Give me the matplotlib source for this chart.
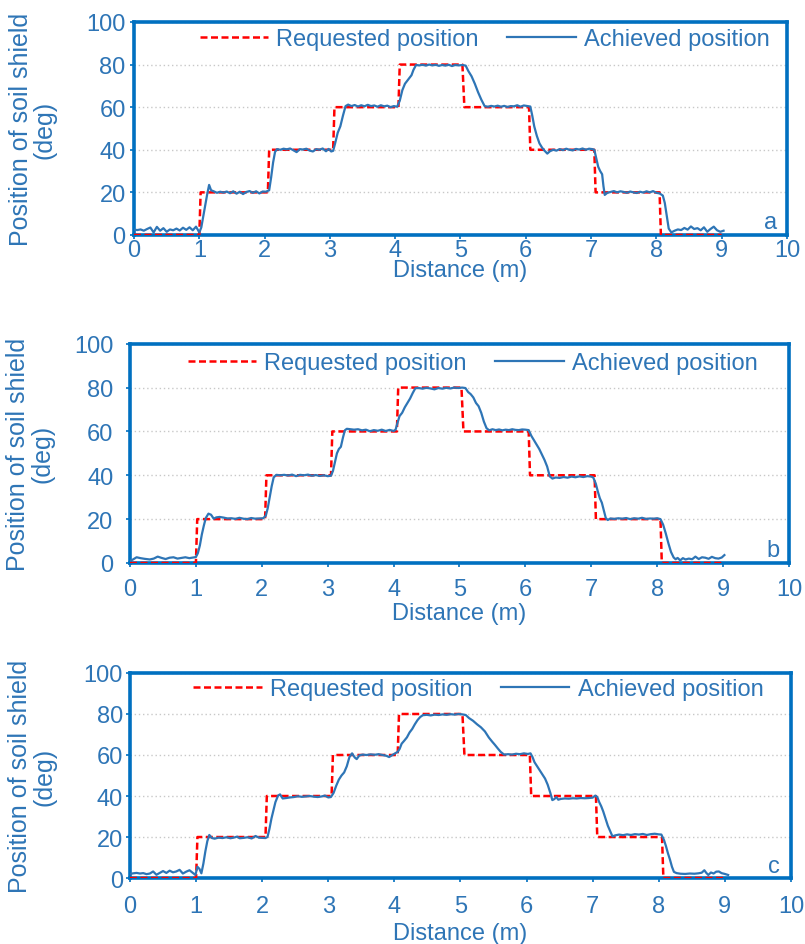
import matplotlib
matplotlib.use('Agg')
import matplotlib.pyplot as plt

plt.rcParams['font.family'] = ['Liberation Sans', 'DejaVu Sans']

# requested set-point (same staircase for every run)
req_x = [0, 1.00, 1.02, 2.05, 2.07, 3.05, 3.07, 4.05, 4.07, 5.03, 5.06,
         6.05, 6.07, 7.05, 7.07, 8.05, 8.07, 9.0]
req_y = [0, 0, 20, 20, 40, 40, 60, 60, 80, 80, 60, 60, 40, 40, 20, 20, 0, 0]

# run a
a_x = [0.00, 0.05, 0.10, 0.15, 0.20, 0.25, 0.30, 0.35, 0.40, 0.45, 0.50, 0.55, 0.60, 0.65, 0.70,
       0.75, 0.80, 0.85, 0.90, 0.95, 1.00, 1.03, 1.08, 1.12, 1.15, 1.18, 1.22, 1.27, 1.32, 1.37,
       1.42, 1.47, 1.52, 1.57, 1.62, 1.67, 1.72, 1.77, 1.82, 1.87, 1.92, 1.97, 2.02, 2.07, 2.10,
       2.13, 2.16, 2.19, 2.24, 2.29, 2.34, 2.39, 2.44, 2.49, 2.54, 2.59, 2.64, 2.69, 2.74, 2.79,
       2.84, 2.89, 2.94, 2.98, 3.02, 3.05, 3.08, 3.12, 3.16, 3.20, 3.24, 3.28, 3.33, 3.38, 3.43,
       3.48, 3.53, 3.58, 3.63, 3.68, 3.73, 3.78, 3.83, 3.88, 3.93, 3.98, 4.03, 4.07, 4.11, 4.15,
       4.20, 4.25, 4.28, 4.32, 4.37, 4.42, 4.47, 4.52, 4.57, 4.62, 4.67, 4.72, 4.77, 4.82, 4.87,
       4.92, 4.97, 5.03, 5.08, 5.12, 5.17, 5.22, 5.27, 5.32, 5.37, 5.42, 5.47, 5.52, 5.57, 5.62,
       5.67, 5.72, 5.77, 5.82, 5.87, 5.92, 5.97, 6.03, 6.07, 6.10, 6.13, 6.17, 6.21, 6.25, 6.29,
       6.33, 6.37, 6.42, 6.47, 6.52, 6.57, 6.62, 6.67, 6.72, 6.77, 6.82, 6.87, 6.92, 6.97, 7.02,
       7.05, 7.08, 7.11, 7.14, 7.17, 7.19, 7.21, 7.25, 7.30, 7.35, 7.40, 7.45, 7.50, 7.55, 7.60,
       7.65, 7.70, 7.75, 7.80, 7.85, 7.90, 7.95, 8.00, 8.05, 8.10, 8.13, 8.16, 8.19, 8.23, 8.28,
       8.33, 8.38, 8.43, 8.48, 8.53, 8.58, 8.63, 8.68, 8.73, 8.78, 8.83, 8.88, 8.93, 8.98, 9.03]
a_y = [2.5, 2.3, 2.6, 2.0, 2.8, 3.5, 1.2, 3.8, 2.0, 3.2, 1.5, 2.6, 2.2, 3.0, 2.1,
       3.4, 2.4, 3.6, 2.2, 3.9, 1.2, 3.5, 12, 19, 23.5, 21, 20.5, 19.8, 20.3, 19.9,
       20.4, 19.6, 20.5, 19.4, 20.3, 19.2, 20.2, 20.6, 19.8, 20.5, 19.5, 20.4, 20.3, 21, 27,
       34, 39, 40.3, 40.0, 40.5, 40.2, 40.6, 39.8, 38.9, 40.3, 40.1, 40.5, 39.6, 39.2, 40.3,
       40.0, 40.6, 39.3, 40.4, 39.2, 39.5, 43, 48, 51, 56, 60.5, 61.2, 60.5, 61.0, 60.3,
       60.9, 60.4, 61.1, 60.5, 60.8, 60.2, 60.9, 60.4, 60.7, 60.0, 60.5, 60.2, 63, 68, 71,
       73, 75, 77.5, 79.8, 79.6, 79.9, 79.5, 80.0, 79.6, 79.9, 79.4, 79.8, 79.5, 79.9, 79.3,
       79.8, 79.6, 79.8, 79.5, 77, 74.5, 71, 67, 63.5, 60.5, 60.2, 60.6, 60.3, 60.7, 60.2,
       60.6, 60.1, 60.5, 60.4, 60.9, 60.2, 60.8, 60.5, 60.3, 56, 51, 46.5, 43, 41, 39.5,
       38.2, 39.3, 40.0, 39.6, 40.3, 39.8, 40.5, 40.0, 39.7, 40.4, 40.1, 40.6, 40.0, 40.5, 40.3,
       40.0, 36, 32, 30, 28.5, 23, 18.8, 19.8, 20.2, 20.6, 20.0, 20.5, 20.2, 19.8, 20.4,
       20.0, 19.7, 20.3, 19.9, 20.5, 20.0, 20.6, 19.8, 19.5, 18.5, 15, 9, 3, 1.2, 2.0,
       2.6, 2.3, 3.3, 2.5, 4.0, 2.8, 3.2, 2.2, 3.6, 1.5, 2.8, 3.9, 2.2, 1.5, 2.0]

# run b
b_x = [0.00, 0.04, 0.10, 0.16, 0.22, 0.30, 0.36, 0.42, 0.48, 0.54, 0.60, 0.66, 0.72, 0.78, 0.84,
       0.90, 0.96, 1.00, 1.03, 1.06, 1.09, 1.12, 1.15, 1.19, 1.23, 1.27, 1.31, 1.36, 1.42, 1.48,
       1.54, 1.60, 1.66, 1.72, 1.78, 1.84, 1.90, 1.96, 2.02, 2.06, 2.09, 2.12, 2.15, 2.18, 2.22,
       2.28, 2.34, 2.40, 2.46, 2.52, 2.58, 2.64, 2.70, 2.76, 2.82, 2.88, 2.94, 3.00, 3.05, 3.08,
       3.11, 3.14, 3.17, 3.20, 3.23, 3.26, 3.29, 3.34, 3.40, 3.46, 3.52, 3.58, 3.64, 3.70, 3.76,
       3.82, 3.88, 3.94, 4.00, 4.03, 4.06, 4.09, 4.13, 4.17, 4.21, 4.25, 4.29, 4.33, 4.38, 4.44,
       4.50, 4.56, 4.62, 4.68, 4.74, 4.80, 4.86, 4.92, 4.98, 5.04, 5.09, 5.13, 5.17, 5.21, 5.25,
       5.29, 5.33, 5.37, 5.41, 5.45, 5.50, 5.55, 5.60, 5.65, 5.70, 5.75, 5.80, 5.85, 5.90, 5.95,
       6.00, 6.05, 6.09, 6.13, 6.17, 6.21, 6.25, 6.29, 6.33, 6.37, 6.41, 6.46, 6.52, 6.58, 6.64,
       6.70, 6.76, 6.82, 6.88, 6.94, 7.00, 7.03, 7.07, 7.10, 7.13, 7.16, 7.19, 7.22, 7.25, 7.29,
       7.35, 7.41, 7.47, 7.53, 7.59, 7.65, 7.71, 7.77, 7.83, 7.89, 7.95, 8.00, 8.05, 8.09, 8.13,
       8.17, 8.21, 8.25, 8.28, 8.31, 8.35, 8.39, 8.43, 8.48, 8.53, 8.58, 8.63, 8.68, 8.73, 8.78,
       8.83, 8.88, 8.93, 8.98, 9.02]
b_y = [1.0, 1.5, 2.6, 2.2, 1.9, 1.6, 2.0, 2.9, 2.3, 1.8, 2.4, 2.6, 2.0, 2.3, 2.6,
       2.2, 2.5, 2.7, 4.5, 8, 13, 17, 20.5, 22.5, 22.0, 20.2, 20.8, 21.0, 20.7, 20.3,
       20.4, 20.1, 20.6, 20.2, 20.0, 20.5, 20.2, 20.3, 20.4, 21.5, 25, 30, 35, 39, 40.2,
       40.0, 40.2, 39.9, 40.3, 39.6, 40.2, 40.0, 40.3, 39.8, 40.1, 39.7, 40.0, 39.6, 39.8, 42,
       46, 50, 52, 53, 57, 60.5, 61.2, 61.0, 60.8, 61.0, 60.5, 60.8, 60.1, 60.6, 60.3,
       60.8, 60.2, 60.7, 60.2, 60.8, 64, 67, 68.5, 71, 73, 75, 77.5, 79.7, 79.8, 79.5,
       79.9, 79.6, 79.2, 79.8, 79.5, 79.9, 79.6, 80.0, 79.8, 80.0, 79.8, 78, 77, 75.5, 73,
       71.5, 68.5, 64.5, 61.5, 60.5, 61.0, 60.6, 60.9, 60.5, 60.8, 60.6, 61.0, 60.7, 60.6, 60.9,
       60.8, 60.6, 58, 56, 54, 52, 49.5, 47, 44, 39.5, 38.5, 39.0, 38.8, 39.2, 38.9,
       39.4, 39.1, 39.5, 39.2, 39.6, 39.4, 39.0, 36, 32.5, 29.5, 27.5, 24, 20.5, 19.6, 20.3,
       20.1, 20.4, 20.2, 20.5, 20.0, 20.4, 20.2, 20.6, 20.1, 20.3, 20.2, 20.4, 20.0, 17.5, 13.5,
       9, 5, 2.5, 1.7, 2.3, 1.2, 2.2, 1.6, 2.0, 1.7, 2.9, 1.8, 2.6, 2.4, 1.9,
       2.8, 2.2, 2.0, 2.5, 3.6]

# run c
c_x = [0.00, 0.05, 0.10, 0.15, 0.20, 0.25, 0.30, 0.35, 0.40, 0.45, 0.50, 0.55, 0.60, 0.65, 0.70,
       0.75, 0.80, 0.85, 0.90, 0.95, 0.99, 1.02, 1.05, 1.08, 1.11, 1.14, 1.17, 1.20, 1.24, 1.28,
       1.34, 1.40, 1.46, 1.52, 1.58, 1.62, 1.66, 1.72, 1.78, 1.84, 1.90, 1.95, 2.00, 2.05, 2.08,
       2.11, 2.14, 2.17, 2.20, 2.24, 2.27, 2.31, 2.36, 2.42, 2.48, 2.54, 2.60, 2.66, 2.72, 2.78,
       2.84, 2.90, 2.95, 3.00, 3.04, 3.08, 3.12, 3.16, 3.20, 3.24, 3.28, 3.32, 3.36, 3.40, 3.43,
       3.47, 3.52, 3.58, 3.64, 3.70, 3.76, 3.82, 3.88, 3.92, 3.96, 4.01, 4.05, 4.08, 4.11, 4.15,
       4.19, 4.23, 4.27, 4.31, 4.35, 4.39, 4.43, 4.49, 4.55, 4.61, 4.67, 4.73, 4.79, 4.85, 4.91,
       4.97, 5.03, 5.08, 5.13, 5.19, 5.25, 5.31, 5.37, 5.43, 5.48, 5.52, 5.57, 5.61, 5.66, 5.72,
       5.78, 5.84, 5.90, 5.96, 6.02, 6.06, 6.09, 6.12, 6.16, 6.20, 6.24, 6.28, 6.32, 6.36, 6.39,
       6.42, 6.45, 6.48, 6.52, 6.58, 6.64, 6.70, 6.76, 6.82, 6.88, 6.94, 7.00, 7.04, 7.07, 7.10,
       7.13, 7.16, 7.20, 7.23, 7.27, 7.30, 7.34, 7.40, 7.46, 7.52, 7.58, 7.64, 7.70, 7.76, 7.82,
       7.88, 7.94, 8.00, 8.04, 8.08, 8.11, 8.14, 8.17, 8.20, 8.23, 8.27, 8.33, 8.40, 8.47, 8.54,
       8.60, 8.65, 8.69, 8.72, 8.75, 8.79, 8.83, 8.87, 8.91, 8.95, 9.00, 9.05]
c_y = [2.0, 2.3, 2.5, 2.2, 2.4, 1.9, 2.2, 3.2, 1.6, 2.5, 3.4, 2.5, 3.6, 2.8, 3.2,
       4.0, 2.2, 3.1, 3.8, 2.5, 1.5, 5.5, 4.5, 2.3, 7, 13, 18, 21, 19.5, 19.2,
       19.7, 19.5, 19.9, 19.4, 19.8, 20.2, 19.4, 19.6, 19.9, 19.3, 20.5, 19.7, 19.6, 19.5, 20,
       24, 29, 33, 37, 40.2, 40.8, 38.8, 39.0, 39.3, 39.5, 39.9, 39.6, 39.8, 40.0, 39.7,
       39.5, 39.8, 40.2, 39.3, 39.5, 41.5, 45, 48, 50, 51.5, 54.5, 59, 60.8, 58.8, 58.0,
       59.8, 60.2, 60.0, 60.3, 60.1, 60.4, 60.0, 59.6, 59.0, 59.8, 60.8, 61.5, 63, 65.5, 67,
       68.6, 71, 72.7, 75, 77, 78.5, 79.4, 79.6, 79.3, 79.7, 79.5, 79.8, 79.6, 79.9, 79.7,
       80.0, 79.8, 79.5, 78, 76.7, 75, 73.5, 71.5, 68.5, 66.5, 65, 63, 61.5, 60.2, 60.4,
       60.2, 60.6, 60.4, 60.8, 60.5, 60.8, 59, 56.5, 54.5, 52.5, 50.5, 48.5, 45.5, 41.5, 38,
       38.5, 39.5, 38.2, 38.6, 38.8, 38.7, 38.9, 38.8, 39.0, 38.9, 39.0, 39.2, 40.2, 39.5, 37,
       35, 32.5, 28.5, 25.5, 22.5, 20.3, 20.8, 21.2, 20.9, 21.3, 21.0, 21.4, 21.2, 21.5, 21.0,
       21.4, 21.6, 21.3, 21.2, 18.5, 15.5, 12, 9, 5.5, 3.0, 2.4, 2.1, 2.0, 2.2, 2.1,
       2.3, 2.6, 3.8, 2.5, 1.5, 2.7, 2.2, 3.1, 3.2, 2.4, 2.0, 1.5]

runs = [(a_x, a_y, 'a'), (b_x, b_y, 'b'), (c_x, c_y, 'c')]
x_ticks = list(range(0, 11))
y_ticks = [0, 20, 40, 60, 80, 100]

frame_blue = '#0070C0'
line_blue = '#2E75B6'
text_blue = '#2E75B6'
fs = 17

# axes boxes in figure fractions, legend anchors, and per-panel paddings
boxes = [[0.1665, 0.7503, 0.811, 0.2254],
         [0.1615, 0.4032, 0.8186, 0.2320],
         [0.1615, 0.0698, 0.8210, 0.2170]]
leg_pos = [(0.537, 0.92), (0.52, 0.912), (0.527, 0.922)]
x_pad = [0.0, 7.5, 9.5]
y_pad = [3.0, 9.0, 2.0]
x_labelpad = [-1.5, 1.5, 3.5]
ylab_x = [33, 30, 32]   # pixel centre of the two-line label

fig = plt.figure(figsize=(8.05, 9.45), dpi=100)

for i, ((xs, ys, tag), box, lp) in enumerate(zip(runs, boxes, leg_pos)):
    ax = fig.add_axes(box)
    ax.plot(req_x, req_y, color='#FF0000', lw=1.8, dashes=(2.8, 1.4),
            label='Requested position', zorder=3)
    ax.plot(xs, ys, color=line_blue, lw=1.6, label='Achieved position', zorder=4)

    ax.set_xlim(0, 10)
    ax.set_ylim(0, 100)
    ax.set_xticks(x_ticks)
    ax.set_yticks(y_ticks)
    ax.yaxis.grid(True, linestyle=(0, (1, 2)), color='#C8C8C8', lw=1.0)
    ax.set_axisbelow(True)

    for sp in ax.spines.values():
        sp.set_color(frame_blue)
        sp.set_linewidth(2.6)
    ax.tick_params(axis='both', colors=frame_blue, labelcolor=text_blue,
                   labelsize=fs, length=3, width=1.2)
    ax.tick_params(axis='x', pad=x_pad[i])
    ax.tick_params(axis='y', pad=y_pad[i])

    ax.set_xlabel('Distance (m)', fontsize=fs, color=text_blue, labelpad=x_labelpad[i])
    mid_y = box[1] + box[3] / 2
    fig.text(ylab_x[i] / 805, mid_y, 'Position of soil shield\n(deg)',
             rotation=90, ha='center', va='center', fontsize=18, color=text_blue,
             multialignment='center', linespacing=1.0)
    ax.text(0.975, 0.06, tag, transform=ax.transAxes, ha='center', va='center',
            fontsize=fs, color=text_blue)

    leg = ax.legend(loc='center', bbox_to_anchor=lp, ncol=2, frameon=False,
                    fontsize=fs, handlelength=2.9, handletextpad=0.35,
                    columnspacing=1.2, borderaxespad=0)
    for t in leg.get_texts():
        t.set_color(text_blue)

fig.savefig('out.png', dpi=100)
